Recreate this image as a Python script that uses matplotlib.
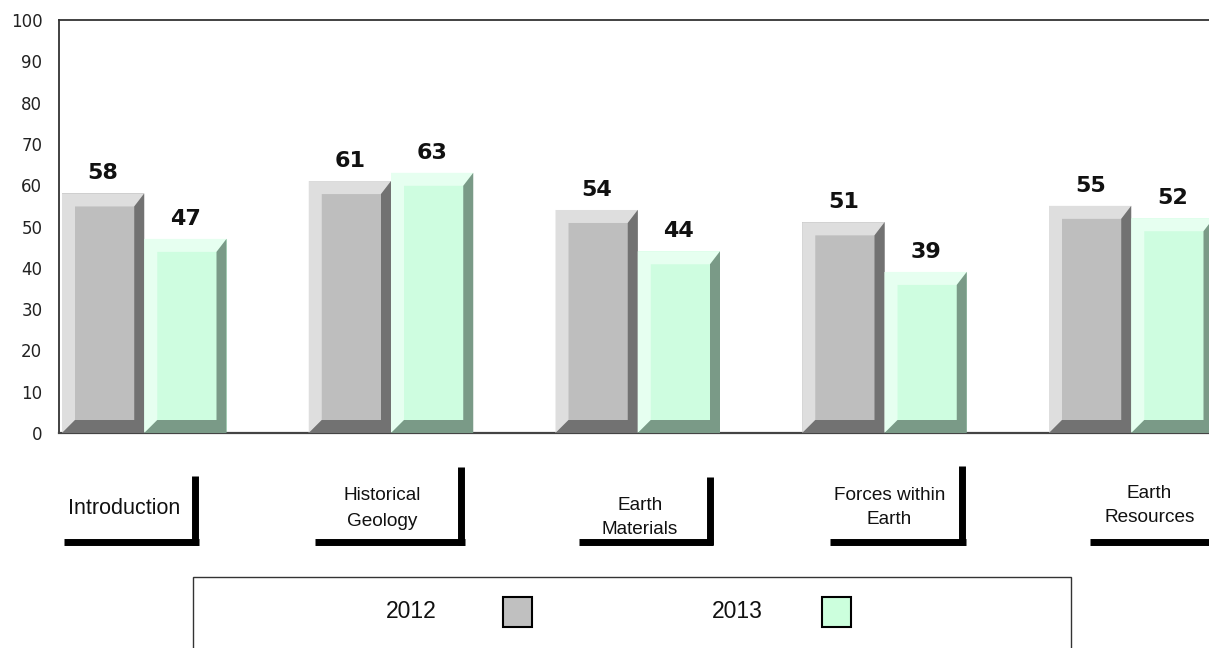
import matplotlib
matplotlib.use("Agg")
import matplotlib.pyplot as plt
from matplotlib.patches import Polygon, Rectangle
from matplotlib.lines import Line2D

# ---------------- data ----------------
categories = ["Introduction", "Historical\nGeology", "Earth\nMaterials",
              "Forces within\nEarth", "Earth\nResources"]
series_names = ["2012", "2013"]
values_2012 = [58, 61, 54, 51, 55]
values_2013 = [47, 63, 44, 39, 52]
y_ticks = [0, 10, 20, 30, 40, 50, 60, 70, 80, 90, 100]

# ---------------- styles ----------------
face_cols = ["#BEBEBE", "#CEFDE0"]
light_cols = ["#DEDEDE", "#E6FFF0"]
dark_cols = ["#727272", "#7A9A87"]
legend_cols = ["#C0C0C0", "#CCFFDD"]

W, H = 1209, 648
fig = plt.figure(figsize=(W / 100, H / 100), dpi=100)
ax_left, ax_top, ax_bot = 59, 20, 433
ax = fig.add_axes([ax_left / W, 1 - ax_bot / H, 1 - ax_left / W, (ax_bot - ax_top) / H])

unit_px = 82.25
x0 = -3 / unit_px
ax.set_xlim(x0, x0 + (W - ax_left) / unit_px)
ax.set_ylim(0, 100)
ypx = (ax_bot - ax_top) / 100.0

series = [values_2012, values_2013]
dl, dr = 13 / unit_px, 10 / unit_px
dt, db = 13 / ypx, 13 / ypx

for j, vals in enumerate(series):
    xs = [3 * i + j + 0.5 for i in range(len(vals))]
    bars = ax.bar(xs, vals, width=1.0, color=face_cols[j], edgecolor="none", zorder=2)
    for p, v in zip(bars.patches, vals):
        L = p.get_x()
        R = L + p.get_width()
        T = p.get_height()
        B = 0
        light = [(L, B), (L, T), (R, T), (R - dr, T - dt), (L + dl, T - dt), (L + dl, B + db)]
        dark = [(R, T), (R, B), (L, B), (L + dl, B + db), (R - dr, B + db), (R - dr, T - dt)]
        ax.add_patch(Polygon(light, closed=True, facecolor=light_cols[j], edgecolor="none", zorder=3))
        ax.add_patch(Polygon(dark, closed=True, facecolor=dark_cols[j], edgecolor="none", zorder=3))
        ax.annotate(str(v), (L + p.get_width() / 2, T), xytext=(0, 14.5),
                    textcoords="offset points", ha="center", va="center",
                    fontsize=16, fontweight="bold", family="DejaVu Sans",
                    color="#111111", zorder=5)

ax.set_yticks(y_ticks)
ax.set_yticklabels([str(t) for t in y_ticks], family="DejaVu Sans", fontsize=12, color="#222222")
ax.tick_params(axis="y", length=0, pad=12)
ax.set_xticks([])
for s in ["left", "top"]:
    ax.spines[s].set_color("#333333")
    ax.spines[s].set_linewidth(1.3)
ax.spines["bottom"].set_color("#444444")
ax.spines["bottom"].set_linewidth(1.6)
ax.spines["right"].set_visible(False)


def fx(px):
    return px / W


def fy(py):
    return 1 - py / H


# ---------------- category bracket labels ----------------
# (text dx, hline start dx, hline end dx, vline dx, vline top y, text y line1, text size)
label_layout = [
    (-20, -80, 55, 51, 476, 508, 15.5),
    (-9, -76, 74, 70, 467, 496, 13.7),
    (2, -59, 75, 72, 477, 505, 13.7),
    (5, -55, 81, 77, 466, 495, 13.7),
    (18, -41, 80, None, None, 493, 13.7),
]
line_y = 541.5
for i, (lab, lay) in enumerate(zip(categories, label_layout)):
    tdx, h0, h1, vdx, vtop, ty, fs = lay
    cx = ax.transData.transform((3 * i + 1, 0))[0]
    lines = lab.split("\n")
    for k, ln in enumerate(lines):
        fig.text(fx(cx + tdx), fy(ty + 25 * k), ln, ha="center", va="center",
                 fontsize=fs, family="Liberation Sans", color="#111111")
    fig.add_artist(Line2D([fx(cx + h0), fx(cx + h1)], [fy(line_y), fy(line_y)],
                          color="black", lw=5, solid_capstyle="butt"))
    if vdx is not None:
        fig.add_artist(Line2D([fx(cx + vdx), fx(cx + vdx)], [fy(vtop), fy(line_y + 3.5)],
                              color="black", lw=5, solid_capstyle="butt"))

# ---------------- legend ----------------
fig.add_artist(Rectangle((fx(193), fy(700)), (1071 - 193) / W, (700 - 577) / H,
                         transform=fig.transFigure, fill=False, edgecolor="#333333", lw=1.0))
leg_text_x = [411, 737]
leg_sw_x = [503, 822]
for name, tx, sx, col in zip(series_names, leg_text_x, leg_sw_x, legend_cols):
    fig.text(fx(tx), fy(612), name, ha="center", va="center", fontsize=16.5,
             family="Liberation Sans", color="#111111")
    fig.add_artist(Rectangle((fx(sx), fy(627)), 29 / W, 30 / H, transform=fig.transFigure,
                             facecolor=col, edgecolor="black", lw=1.5))

fig.savefig("out.png", dpi=100)
